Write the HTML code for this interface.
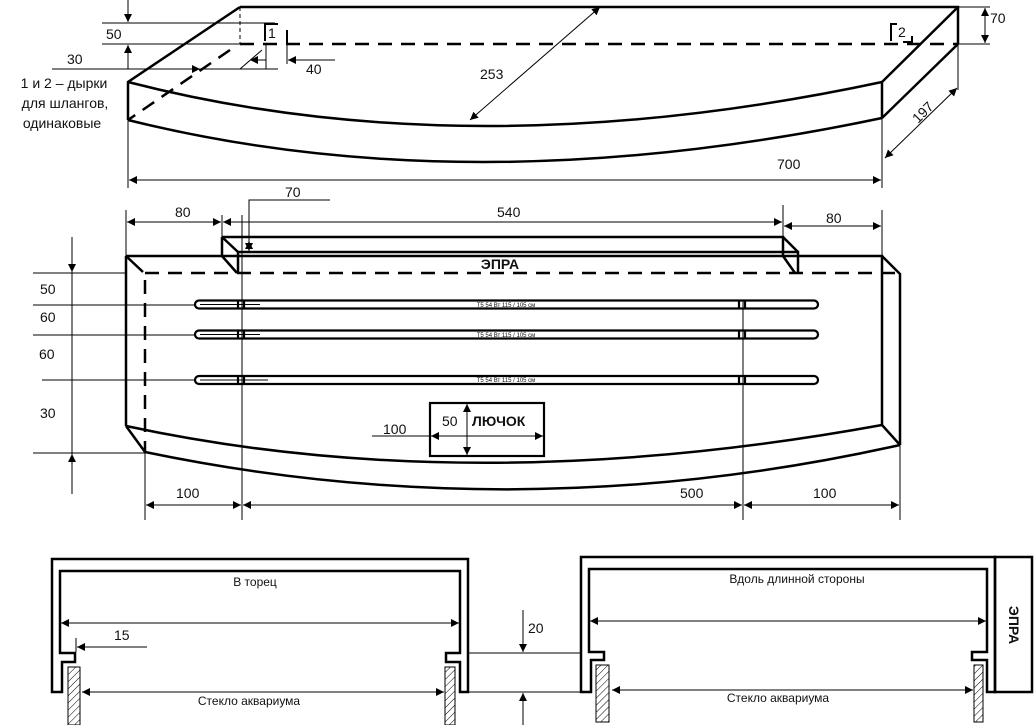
<!DOCTYPE html>
<html><head><meta charset="utf-8"><style>
html,body{margin:0;padding:0;background:#fff}
svg{display:block}
text{font-family:"Liberation Sans",sans-serif;fill:#111}
</style></head><body>
<svg width="1036" height="725" viewBox="0 0 1036 725" xmlns="http://www.w3.org/2000/svg">
<defs>
<marker id="a" viewBox="0 0 10 10" refX="10" refY="5" markerWidth="10" markerHeight="8" markerUnits="userSpaceOnUse" orient="auto-start-reverse"><path d="M0,0L10,5L0,10z" fill="#000"/></marker>
<pattern id="h" width="5" height="5" patternUnits="userSpaceOnUse" patternTransform="rotate(45)"><line x1="0" y1="0" x2="0" y2="5" stroke="#000" stroke-width="1"/></pattern>
</defs>
<g fill="none" stroke="#000">
<!-- TOP VIEW -->
<g stroke-width="2.5">
<path d="M240,7H958V44"/>
<path d="M240,7L128,82V120"/>
<path d="M958,7L882,82V118"/>
<path d="M958,44L882,118"/>
<path d="M128,82Q470,170 882,82"/>
<path d="M128,120Q470,205 882,118"/>
</g>
<g stroke-width="2.5" stroke-dasharray="14,9">
<path d="M240,44H958"/>
<path d="M230,50L128,120"/>
</g>
<path d="M240,7V44" stroke-width="1" stroke-dasharray="4,3"/>
<path d="M265,41V24H278" stroke-width="2"/>
<path d="M287,30V44" stroke-width="2"/>
<path d="M891,41V24H897M903,42H912V36" stroke-width="2"/>
<g stroke-width="1">
<path d="M102,23H275M102,44H240"/>
<path d="M128,0V22" marker-end="url(#a)"/>
<path d="M128,69V45" marker-end="url(#a)"/>
<path d="M52,69H200" marker-end="url(#a)"/>
<path d="M200,69H278"/>
<path d="M266,44V69M287,44V64"/>
<path d="M266,60H250" marker-end="url(#a)"/>
<path d="M335,60H288" marker-end="url(#a)"/>
<path d="M240,69L262,50"/>
<path d="M470,120L600,7" marker-start="url(#a)" marker-end="url(#a)"/>
<path d="M128,120V188M882,118V188M958,44V90M958,7H990M958,44H990"/>
<path d="M129,180H881" marker-start="url(#a)" marker-end="url(#a)"/>
<path d="M985,8V43" marker-start="url(#a)" marker-end="url(#a)"/>
<path d="M885,158L957,88" marker-start="url(#a)" marker-end="url(#a)"/>
</g>
<!-- MIDDLE VIEW -->
<g stroke-width="2.5">
<path d="M222,237H783V256M222,237V256M222,237L238,252M783,237L798,252"/>
<path d="M238,252H798V273M238,252V273M222,256L237,273M783,256L795,273"/>
<path d="M126,256H882V425M126,256V426M126,256L143,272M882,256L900,274V445M882,425L900,445M126,426L145,452"/>
<path d="M126,426Q470,500 882,425"/>
<path d="M145,452Q520,530 900,445"/>
</g>
<g stroke-width="2.5" stroke-dasharray="14,9">
<path d="M145,273H900"/>
<path d="M145,280V452"/>
</g>
<g stroke-width="2.2">
<rect x="195" y="300.5" width="623" height="8" rx="4"/>
<rect x="195" y="330.5" width="623" height="8" rx="4"/>
<rect x="195" y="376" width="623" height="8" rx="4"/>
<path d="M238,300V309M244,300V309M739,300V309M745,300V309M238,330V339M244,330V339M739,330V339M745,330V339M238,376V384M244,376V384M739,376V384M745,376V384"/>
<rect x="430" y="403" width="114" height="53"/>
</g>
<g stroke-width="1">
<path d="M200,304.5H260M200,334.5H260M200,380H268"/>
<path d="M126,210V256M882,210V256M222,215V237M783,205V237M900,445V520M145,452V520M242,215V520M743,300V520"/>
<path d="M127,222H221" marker-start="url(#a)" marker-end="url(#a)"/>
<path d="M223,222H782" marker-start="url(#a)" marker-end="url(#a)"/>
<path d="M784,226H881" marker-start="url(#a)" marker-end="url(#a)"/>
<path d="M330,200H249V252"/>
<path d="M249,240V251" marker-end="url(#a)"/>
<path d="M249,250V241" marker-end="url(#a)"/>
<path d="M33,273H126M33,305H195M33,335H195M42,380H195M33,453H145"/>
<path d="M72,237V272" marker-end="url(#a)"/>
<path d="M72,494V454" marker-end="url(#a)"/>
<path d="M72,272V454"/>
<path d="M146,505H241" marker-start="url(#a)" marker-end="url(#a)"/>
<path d="M243,505H742" marker-start="url(#a)" marker-end="url(#a)"/>
<path d="M744,505H899" marker-start="url(#a)" marker-end="url(#a)"/>
<path d="M372,436H450"/>
<path d="M450,436H431" marker-end="url(#a)"/>
<path d="M450,436H543" marker-end="url(#a)"/>
<path d="M467,404V455" marker-start="url(#a)" marker-end="url(#a)"/>
</g>
<!-- BOTTOM LEFT -->
<path d="M52,559H468V692H460V662H446V653H460V571H60V653H75V662H62V692H52Z" stroke-width="2.5"/>
<rect x="68" y="667" width="12" height="58" fill="url(#h)" stroke-width="1"/>
<rect x="445" y="667" width="10" height="58" fill="url(#h)" stroke-width="1"/>
<g stroke-width="1">
<path d="M61,623H459" marker-start="url(#a)" marker-end="url(#a)"/>
<path d="M147,647H77" marker-end="url(#a)"/>
<path d="M76,638V652"/>
<path d="M82,692H444" marker-start="url(#a)" marker-end="url(#a)"/>
<path d="M469,653H581M469,692H581"/>
</g>
<!-- BOTTOM RIGHT -->
<path d="M581,557H995V692H987V660H972V652H987V569H589V652H604V660H591V692H581Z" stroke-width="2.5"/>
<rect x="995" y="557" width="37" height="135" stroke-width="2.5"/>
<rect x="596" y="665" width="13" height="57" fill="url(#h)" stroke-width="1"/>
<rect x="974" y="665" width="9" height="57" fill="url(#h)" stroke-width="1"/>
<g stroke-width="1">
<path d="M590,621H986" marker-start="url(#a)" marker-end="url(#a)"/>
<path d="M612,690H973" marker-start="url(#a)" marker-end="url(#a)"/>
<path d="M523,610V652" marker-end="url(#a)"/>
<path d="M523,725V693" marker-end="url(#a)"/>
</g>
</g>
<!-- TEXT -->
<g font-size="14">
<text x="106" y="39">50</text>
<text x="67" y="64">30</text>
<text x="268" y="38">1</text>
<text x="898" y="37">2</text>
<text x="306" y="74">40</text>
<text x="480" y="79">253</text>
<text x="777" y="169">700</text>
<text x="990" y="23">70</text>
<text x="0" y="0" transform="translate(918,124) rotate(-45)">197</text>
<text x="64" y="88" text-anchor="middle">1 и 2 – дырки</text>
<text x="65" y="108" text-anchor="middle">для шлангов,</text>
<text x="62" y="128" text-anchor="middle">одинаковые</text>
<text x="175" y="217">80</text>
<text x="497" y="217">540</text>
<text x="826" y="223">80</text>
<text x="285" y="197">70</text>
<text x="40" y="294">50</text>
<text x="40" y="322">60</text>
<text x="39" y="359">60</text>
<text x="40" y="418">30</text>
<text x="176" y="498">100</text>
<text x="680" y="498">500</text>
<text x="813" y="498">100</text>
<text x="383" y="434">100</text>
<text x="442" y="426">50</text>
<text x="114" y="640">15</text>
<text x="528" y="633">20</text>
</g>
<text x="500" y="269" font-size="14" font-weight="bold" text-anchor="middle">ЭПРА</text>
<text x="472" y="426" font-size="14" font-weight="bold">ЛЮЧОК</text>
<g font-size="6" text-anchor="middle">
<text x="506" y="307">T5 54 Вт 115 / 105 см</text>
<text x="506" y="337">T5 54 Вт 115 / 105 см</text>
<text x="506" y="382">T5 54 Вт 115 / 105 см</text>
</g>
<g font-size="12" text-anchor="middle">
<text x="255" y="586">В торец</text>
<text x="249" y="705">Стекло аквариума</text>
<text x="797" y="583">Вдоль длинной стороны</text>
<text x="778" y="702">Стекло аквариума</text>
</g>
<text x="0" y="0" font-size="14" font-weight="bold" text-anchor="middle" transform="translate(1009,625) rotate(90)">ЭПРА</text>
</svg>
</body></html>
